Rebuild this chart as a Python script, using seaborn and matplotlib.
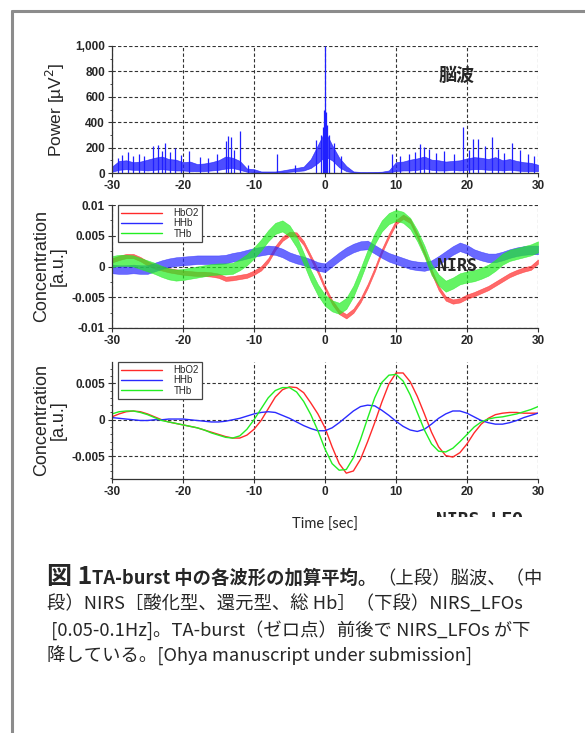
import numpy as np
import pandas as pd
import matplotlib
matplotlib.use('Agg')
import matplotlib.pyplot as plt
import seaborn as sns
from matplotlib.ticker import AutoMinorLocator, FuncFormatter, StrMethodFormatter
from matplotlib.lines import Line2D

# time axis, 1 s steps
t = np.arange(-30, 31)

# EEG power band (lower / upper edge) and spikes
eeg_lo = [10, 25, 30, 25, 25, 20, 25, 30, 25, 20, 20, 15, 15, 15, 20, 25, 35, 40, 25, 10,
          5, 2, 2, 2, 3, 10, 15, 20, 40, 80, 130, 100, 45, 15, 3, 1, 1, 2, 2, 5,
          15, 20, 20, 25, 35, 25, 20, 20, 25, 20, 25, 30, 30, 25, 25, 20, 25, 20, 15, 15, 15]
eeg_hi = [50, 95, 100, 85, 90, 105, 120, 130, 110, 105, 85, 90, 70, 75, 85, 100, 130, 120, 95, 35,
          30, 12, 12, 12, 20, 30, 40, 50, 110, 220, 330, 220, 120, 55, 12, 8, 8, 8, 10, 20,
          85, 90, 105, 115, 130, 105, 100, 90, 95, 100, 115, 125, 120, 110, 125, 100, 110, 95, 85, 80, 65]
spike_t = [-29.2, -28.6, -27.8, -27.1, -26.2, -25.5, -24.2, -23.5, -23.0, -22.5, -21.8, -21.1, -20.3,
           -19.1, -17.6, -16.5, -15.2, -14.0, -13.6, -13.3, -12.8, -12.0, -10.8, -6.7, -4.2,
           -1.2, -0.6, -0.3, -0.1, 0.0, 0.1, 0.3, 0.6, 1.2, 2.3, 9.5, 10.6, 11.8, 12.7, 13.4, 13.9,
           14.6, 15.7, 16.8, 18.1, 19.5, 20.3, 20.8, 21.5, 22.5, 23.5, 24.3, 25.2, 26.3, 27.4,
           28.6, 29.4]
spike_v = [120, 140, 165, 130, 150, 135, 210, 218, 170, 240, 165, 195, 140,
           175, 125, 120, 150, 255, 290, 280, 185, 330, 60, 150, 60,
           260, 300, 360, 500, 1000, 480, 380, 300, 240, 130, 150, 130, 150, 165, 230, 205,
           190, 160, 170, 150, 365, 180, 270, 265, 215, 280, 190, 160, 235, 180,
           150, 130]

# NIRS raw: band centres (the cardiac ripple is drawn as a band)
nirs_hbo2 = [0.0010, 0.0014, 0.0017, 0.0017, 0.0012, 0.0005, 0.0000, -0.0003, -0.0006, -0.0008,
             -0.0010, -0.0011, -0.0012, -0.0012, -0.0013, -0.0015, -0.0020, -0.0019, -0.0017, -0.0015,
             -0.0010, -0.0003, 0.0010, 0.0030, 0.0045, 0.0053, 0.0052, 0.0038, 0.0015, -0.0008,
             -0.0035, -0.0058, -0.0074, -0.0081, -0.0072, -0.0055, -0.0032, -0.0005, 0.0025, 0.0050,
             0.0072, 0.0081, 0.0074, 0.0050, 0.0022, -0.0008, -0.0035, -0.0052, -0.0057, -0.0055,
             -0.0049, -0.0045, -0.0040, -0.0035, -0.0028, -0.0021, -0.0014, -0.0009, -0.0005, -0.0002, 0.0008]
nirs_hhb = [-0.0004, -0.0005, -0.0005, -0.0004, -0.0005, -0.0005, -0.0001, 0.0003, 0.0006, 0.0008,
            0.0009, 0.0010, 0.0011, 0.0011, 0.0011, 0.0011, 0.0012, 0.0015, 0.0017, 0.0020,
            0.0023, 0.0025, 0.0027, 0.0026, 0.0022, 0.0016, 0.0012, 0.0009, 0.0005, 0.0000,
            -0.0002, 0.0007, 0.0016, 0.0024, 0.0030, 0.0034, 0.0035, 0.0028, 0.0021, 0.0015,
            0.0011, 0.0007, 0.0003, 0.0001, 0.0000, 0.0003, 0.0010, 0.0018, 0.0026, 0.0032,
            0.0028, 0.0021, 0.0017, 0.0014, 0.0014, 0.0017, 0.0021, 0.0024, 0.0026, 0.0027, 0.0027]
nirs_thb = [0.0008, 0.0010, 0.0010, 0.0009, 0.0005, 0.0001, -0.0003, -0.0008, -0.0012, -0.0014,
            -0.0013, -0.0011, -0.0009, -0.0007, -0.0005, -0.0004, -0.0004, -0.0003, 0.0003, 0.0011,
            0.0022, 0.0035, 0.0050, 0.0062, 0.0066, 0.0058, 0.0040, 0.0013, -0.0015, -0.0038,
            -0.0055, -0.0064, -0.0068, -0.0060, -0.0040, -0.0012, 0.0018, 0.0045, 0.0066, 0.0078,
            0.0083, 0.0080, 0.0070, 0.0050, 0.0025, -0.0005, -0.0022, -0.0032, -0.0027, -0.0020,
            -0.0017, -0.0015, -0.0011, -0.0006, 0.0002, 0.0012, 0.0018, 0.0021, 0.0024, 0.0027, 0.0032]
ripple = {'HbO2': 0.00035, 'HHb': 0.0007, 'THb': 0.0009}

# NIRS_LFOs (0.05-0.1 Hz)
lfo_hbo2 = [0.0004, 0.0008, 0.0011, 0.0012, 0.0011, 0.0008, 0.0004, 0.0000, -0.0003, -0.0005,
            -0.0007, -0.0009, -0.0011, -0.0014, -0.0017, -0.0020, -0.0023, -0.0025, -0.0025, -0.0021,
            -0.0013, -0.0001, 0.0015, 0.0031, 0.0041, 0.0045, 0.0044, 0.0037, 0.0023, 0.0008,
            -0.0011, -0.0037, -0.0060, -0.0073, -0.0070, -0.0054, -0.0030, -0.0004, 0.0024, 0.0049,
            0.0064, 0.0064, 0.0052, 0.0032, 0.0008, -0.0017, -0.0037, -0.0049, -0.0051, -0.0045,
            -0.0033, -0.0018, -0.0006, 0.0002, 0.0007, 0.0009, 0.0010, 0.0010, 0.0009, 0.0009, 0.0009]
lfo_hhb = [0.0003, 0.0002, 0.0001, 0.0000, -0.0001, -0.0001, 0.0000, 0.0000, 0.0001, 0.0001,
           0.0001, 0.0000, -0.0001, -0.0002, -0.0003, -0.0003, -0.0002, 0.0000, 0.0002, 0.0005,
           0.0008, 0.0010, 0.0011, 0.0010, 0.0006, 0.0002, -0.0003, -0.0008, -0.0012, -0.0015,
           -0.0015, -0.0011, -0.0004, 0.0004, 0.0012, 0.0018, 0.0020, 0.0019, 0.0013, 0.0006,
           -0.0002, -0.0009, -0.0014, -0.0016, -0.0013, -0.0006, 0.0002, 0.0008, 0.0012, 0.0012,
           0.0009, 0.0004, -0.0001, -0.0004, -0.0006, -0.0006, -0.0004, -0.0001, 0.0003, 0.0006, 0.0009]
lfo_thb = [0.0008, 0.0011, 0.0012, 0.0012, 0.0010, 0.0007, 0.0003, -0.0001, -0.0003, -0.0005,
           -0.0007, -0.0009, -0.0011, -0.0014, -0.0018, -0.0021, -0.0024, -0.0025, -0.0022, -0.0013,
           0.0000, 0.0015, 0.0030, 0.0040, 0.0044, 0.0044, 0.0038, 0.0025, 0.0007, -0.0015,
           -0.0040, -0.0060, -0.0069, -0.0068, -0.0052, -0.0027, 0.0002, 0.0030, 0.0051, 0.0061,
           0.0062, 0.0053, 0.0034, 0.0010, -0.0014, -0.0033, -0.0043, -0.0044, -0.0039, -0.0030,
           -0.0020, -0.0010, -0.0003, 0.0001, 0.0003, 0.0004, 0.0006, 0.0008, 0.0011, 0.0014, 0.0018]

names = ['HbO2', 'HHb', 'THb']
colors = {'HbO2': '#ff2a2a', 'HHb': '#2a2aff', 'THb': '#22ee22'}

sns.set_style('white')
plt.rcParams['font.family'] = ['Liberation Sans', 'DejaVu Sans']
plt.rcParams['axes.unicode_minus'] = False
CJK = ['Noto Sans CJK JP', 'DejaVu Sans']

W, H = 585, 733
fig = plt.figure(figsize=(W / 100, H / 100), dpi=100)


def make_ax(top, bottom):
    return fig.add_axes([112 / W, 1 - bottom / H, 426 / W, (bottom - top) / H])


def style(ax, minor):
    ax.set_xlim(-30, 30)
    ax.set_xticks([-30, -20, -10, 0, 10, 20, 30])
    ax.grid(True, color='#333333', ls=(0, (3, 2)), lw=0.8)
    ax.set_axisbelow(True)
    for s in ['top', 'right']:
        ax.spines[s].set_visible(False)
    for s in ['left', 'bottom']:
        ax.spines[s].set_color('#333333')
        ax.spines[s].set_linewidth(0.9)
    ax.yaxis.set_minor_locator(AutoMinorLocator(minor))
    ax.tick_params(which='major', direction='out', length=3, width=0.8, color='#333333',
                   labelsize=8.5, pad=2, left=True, bottom=True)
    ax.tick_params(which='minor', axis='y', direction='out', length=1.8, width=0.6,
                   color='#333333', left=True)
    for lab in ax.get_xticklabels() + ax.get_yticklabels():
        lab.set_fontweight('bold')
        lab.set_family(['Liberation Sans'])


fmt = FuncFormatter(lambda v, p: '%g' % round(v, 4))

# top: EEG power
ax1 = make_ax(46, 173)
ax1.fill_between(t, eeg_lo, eeg_hi, color='#2020ff', lw=0.5, alpha=0.8)
ax1.vlines(spike_t, 0, spike_v, color='#2020ff', lw=0.9)
ax1.set_ylim(0, 1000)
ax1.set_yticks([0, 200, 400, 600, 800, 1000])
ax1.yaxis.set_major_formatter(StrMethodFormatter('{x:,.0f}'))
ax1.set_ylabel('Power [µV$^2$]', fontsize=12.5, labelpad=6)
style(ax1, 2)
ax1.text(18.5, 770, '脳波', family=CJK, fontsize=13, fontweight='bold', ha='center', va='center')

# middle: NIRS raw
ax2 = make_ax(205, 328)
raw = {'HbO2': nirs_hbo2, 'HHb': nirs_hhb, 'THb': nirs_thb}
for n in names:
    c = np.array(raw[n])
    ax2.fill_between(t, c - ripple[n], c + ripple[n], color=colors[n], lw=0.4, alpha=0.7)
ax2.set_ylim(-0.01, 0.01)
ax2.set_yticks([-0.01, -0.005, 0, 0.005, 0.01])
ax2.yaxis.set_major_formatter(fmt)
ax2.set_ylabel('Concentration\n[a.u.]', fontsize=13, linespacing=1.0, labelpad=3)
style(ax2, 2)
ax2.text(18.6, 0.0001, 'NIRS', family='DejaVu Sans Mono', fontsize=12, fontweight='bold',
         ha='center', va='center')
h = [Line2D([], [], color=colors[n], lw=1) for n in names]
leg_kw = dict(loc='upper left', bbox_to_anchor=(0.014, 1.0), borderaxespad=0, fontsize=7,
              handlelength=4.2, handletextpad=1.2, labelspacing=0.05, borderpad=0.3,
              fancybox=False, framealpha=1, edgecolor='#444444')
lg = ax2.legend(h, names, **leg_kw)
lg.get_frame().set_linewidth(0.9)

# bottom: NIRS_LFOs
ax3 = make_ax(362, 479)
lfo = pd.DataFrame({'t': np.tile(t, 3), 'v': lfo_hbo2 + lfo_hhb + lfo_thb,
                    'k': np.repeat(names, len(t))})
sns.lineplot(data=lfo, x='t', y='v', hue='k', palette=colors, lw=1.0, ax=ax3, legend=False)
ax3.set_ylim(-0.0081, 0.0079)
ax3.set_yticks([-0.005, 0, 0.005])
ax3.yaxis.set_major_formatter(fmt)
ax3.set_ylabel('Concentration\n[a.u.]', fontsize=13, linespacing=1.0, labelpad=3)
ax3.set_xlabel('Time [sec]', family='Lato', fontsize=10.5, labelpad=14)
style(ax3, 5)
lg3 = ax3.legend(h, names, **leg_kw)
lg3.get_frame().set_linewidth(0.9)

# clipped label under the bottom panel
axc = fig.add_axes([400 / W, 1 - 517 / H, 150 / W, 12 / H])
axc.axis('off')
axc.text(436 / W, 1 - 511 / H, 'NIRS_LFO', transform=fig.transFigure, family='DejaVu Sans Mono',
         fontsize=13, fontweight='bold', va='top', clip_on=True)

# page border
fig.add_artist(Line2D([12 / W, 12 / W], [0, 1 - 11 / H], transform=fig.transFigure,
                      color='#8c8c8c', lw=2.2))
fig.add_artist(Line2D([12 / W, 1], [1 - 11 / H, 1 - 11 / H], transform=fig.transFigure,
                      color='#8c8c8c', lw=2.2))

# caption
rend = fig.canvas.get_renderer()


def put_line(pieces, x, y):
    for s, size, weight in pieces:
        tx = fig.text(x / W, 1 - y / H, s, family=CJK, fontsize=size, fontweight=weight,
                      va='baseline', ha='left')
        x += tx.get_window_extent(rend).width


put_line([('図 1', 18, 'bold'), ('TA-burst 中の各波形の加算平均。', 13.2, 'bold'),
          ('（上段）脳波、（中', 13.2, 'normal')], 47, 584)
put_line([('段）NIRS［酸化型、還元型、総 Hb］（下段）NIRS_LFOs', 13.2, 'normal')], 47, 610)
put_line([(' [0.05-0.1Hz]。TA-burst（ゼロ点）前後で NIRS_LFOs が下', 13.2, 'normal')], 47, 636)
put_line([('降している。[Ohya manuscript under submission]', 13.2, 'normal')], 47, 662)

fig.savefig('out.png', dpi=100)
